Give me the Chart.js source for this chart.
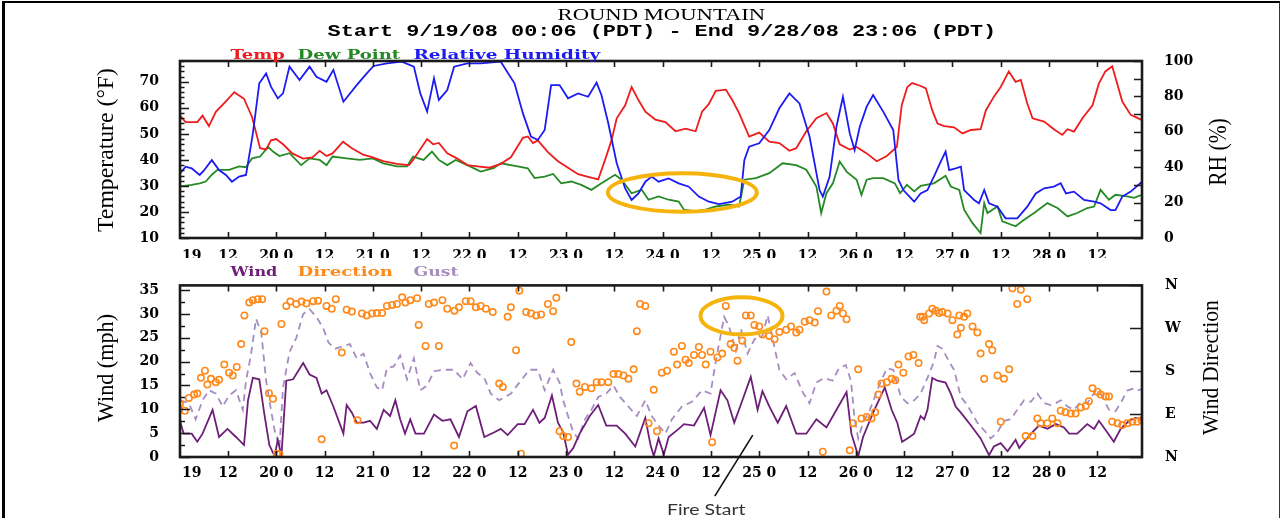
<!DOCTYPE html>
<html>
<head>
<meta charset="utf-8">
<title>Round Mountain</title>
<script src="https://cdn.jsdelivr.net/npm/chart.js@4.4.1/dist/chart.umd.min.js"></script>
<style>
  html, body { margin: 0; padding: 0; background: #fff; }
  #stage { position: relative; width: 1281px; height: 518px; overflow: hidden; background: #fff; }
  #frame { position: absolute; left: 2px; top: 1px; width: 1278px; height: 640px; box-sizing: border-box;
           border-left: 3px solid #000; border-top: 2px solid #000; border-right: 1.5px solid #333; }
  canvas { position: absolute; left: 0; }
  #cTop { top: 0; }
  #cBot { top: 262px; }
  .lbl { position: absolute; white-space: nowrap; line-height: 1; transform-origin: 50% 50%; }
</style>
</head>
<body>
<div id="stage">
  <div id="frame"></div>
  <canvas id="cTop" width="1281" height="262"></canvas>
  <canvas id="cBot" width="1281" height="256"></canvas>
</div>
<script>
// ---- Observations: [hours since 9/19/08 00:00 PDT, value] ----
const tempF = [[0.1,57],[1.5,54.5],[4.4,54.5],[5.7,57],[7.3,53],[9,58.5],[11.5,62.5],[13.6,66],[16,63.5],[18,56.5],[20,44.5],[21.5,44],[22.7,47.5],[24,48],[25.7,46],[28,42.5],[30.7,40.5],[33,41],[34.8,43.5],[36.5,41.5],[38,42.5],[40.6,47],[42.8,44.5],[45.6,42],[48,41],[50.6,39.5],[54,38.5],[57,38],[58,40],[61.5,48],[63,46],[64.4,46.5],[66.5,42.5],[69,40.5],[71.5,38],[74,37.5],[77,37],[79.8,38.5],[82.3,41],[85.3,48.5],[86.5,49],[87.8,46.5],[89,47.5],[91.5,43],[94,39.5],[96.5,37],[99,34.5],[101.5,33.5],[104,32.5],[105.7,40],[107.3,47.5],[108.6,56],[110.7,61],[112.3,68],[114,63],[115.7,58.5],[118.2,55.5],[120.7,54.5],[123.2,51],[125.7,52],[128.2,51],[129.8,58.5],[131.5,61.5],[133.2,66.5],[135.7,67],[137.3,63],[139,58],[141.5,49],[144,50.5],[146.5,47],[149,46.5],[151.5,43.5],[153.2,44.5],[155.7,51],[158.2,56],[160.7,58],[162.3,54],[164,46],[166.5,44],[168.2,45],[170.7,42.5],[173.2,39.5],[175.7,41.5],[178.2,45],[179.4,61],[180.8,68],[182,69.5],[184,68.5],[185.4,67.5],[187,59],[188.3,54],[190,53],[192.4,52.5],[194.5,50.2],[196.6,51.5],[199,51.8],[200.3,59],[202.3,64.3],[204,68],[206,74],[207.7,70],[209,70.7],[210.6,61.7],[211.9,56],[214.8,54.7],[217.2,51.8],[219.3,49.6],[220.6,51.8],[222.2,50.9],[224.3,56],[226.8,61],[228.4,69.4],[230,74],[231.7,76],[234.2,62.4],[236.3,57.3],[239.1,55.3]];

const dewPointF = [[0.1,29.8],[3,30.4],[5,31],[6.5,31.7],[8,34.3],[9.4,36.2],[12.3,36.2],[14.8,37.5],[16.5,37.2],[18,40.6],[20,41.3],[22,45],[23.2,43.2],[24.8,41.5],[27.3,42.6],[30.2,38],[32.3,40.6],[34.8,40],[36.5,38],[38,41.3],[41.5,40.6],[44.8,40],[48,40.6],[50.6,38.7],[54,37.5],[56.5,37.5],[58,41.3],[60.6,40],[62.7,43.2],[64.4,40],[66.5,38],[68.6,40],[71.5,38],[74.8,35.5],[78,36.8],[79.8,38.7],[84,37.5],[86.5,36.8],[88.2,33],[90.7,33.6],[92.8,34.6],[94.8,31],[97.3,31.7],[99.8,30.4],[102.3,28.5],[104.8,31],[108.2,34.3],[109.8,32.4],[112.3,27.2],[114.8,28.5],[116.5,24.7],[119,26],[121.5,24.7],[124,24],[125.3,20.9],[128.2,20.2],[130.7,20.9],[133.2,22.1],[136.5,22.8],[139,22.1],[140.3,32.4],[143.2,33],[146.5,34.9],[149.8,38.7],[153.2,38],[155.7,36.2],[158.2,29.8],[159.4,19.6],[160.7,27.2],[162.3,31],[164,39.4],[165.7,35.5],[168.2,32.4],[169.4,26.6],[170.7,32.4],[172.3,33],[174.8,33],[177.7,31],[179,27.2],[180.7,30.4],[182.5,27.9],[184.1,30],[187.4,31],[190.3,33.9],[191.6,29.8],[193.7,28.5],[194.9,20.9],[197,15.7],[199,11.9],[199.9,23.4],[200.7,19.6],[203.2,22.1],[204.4,16.4],[207.7,14.5],[209.8,17],[212.3,19.6],[215.6,23.4],[218.1,21.5],[220.6,18.3],[223,19.6],[225.5,21.5],[227.2,22.1],[228.8,28.5],[230.9,24.7],[232.5,26.6],[235.4,26],[237.1,25.4],[239.1,26.6]];

const relHumidity = [[0.1,36.5],[1.5,40.3],[3,39.4],[5,35.6],[6,38],[8,44],[9.8,38.4],[11.5,35.6],[13,31.8],[14.8,34.7],[16.5,35.6],[18.2,59],[19.8,87.4],[21.5,93],[22.7,85.5],[24.4,78.9],[25.7,81.7],[27.3,96.8],[29.8,89.3],[32.3,96.8],[34,91.1],[36.5,88.3],[38.2,95],[40.7,77],[44,86.4],[46.5,93],[48.2,97.2],[51.5,98.7],[55.2,99.6],[58.2,96.8],[59.8,81.7],[61.5,71.4],[63.2,90.2],[64.4,78],[66.5,83.6],[68.2,96.8],[71.5,98.7],[74.8,98.7],[79.8,99.6],[83.2,87.4],[85.3,70.4],[87.3,57.3],[89,55.4],[90.7,61],[92.3,86.4],[94.4,86.4],[96.5,78.9],[99,81.7],[101.5,79.8],[103.6,87.8],[104.8,80.8],[106.5,64.8],[108.6,42.2],[110.7,28],[112.3,21.5],[114,25.2],[115.7,31.8],[117.3,34.7],[119,31.8],[121.5,33.7],[124,30.9],[126.5,29],[129,23.4],[131.5,20.5],[134,19.2],[137.3,20.5],[139.4,23.4],[140.3,44],[141.5,51.6],[144,53.5],[146.5,61],[149,73.3],[151.5,81.7],[154,76],[156.5,57.3],[159,27.1],[159.8,23.4],[161.5,34.7],[163.2,63],[164.8,79.8],[166.5,59.1],[167.7,49.7],[169,63],[170.7,74.2],[172.3,80.8],[174.8,71.4],[177.3,61],[178.6,32.8],[179.8,27.1],[182.5,20.5],[184.1,25.2],[185.8,27.1],[187.4,34.7],[189.1,43.1],[190.3,48.8],[191.2,38.4],[192.8,39.4],[194.1,40.3],[194.9,27.1],[197.4,21.5],[198.6,19.6],[199.9,27.1],[201.1,19.6],[203.2,17.7],[205.2,11.1],[208.1,11.1],[210.6,17.7],[212.7,25.2],[214.8,28.1],[217.2,29],[218.9,30.9],[220.2,25.2],[222.2,26.2],[224.7,21.5],[227.2,20.5],[228.8,19.6],[231.3,15.8],[232.5,15.8],[234.2,23.4],[236.3,26.2],[239.1,31.8]];

const windMph = [[0.1,7.6],[1,4.9],[3,4.9],[4.4,3.2],[5.7,4.9],[8.2,9.9],[9.8,4.2],[11.9,5.9],[14,4.2],[16,2.5],[17,11.9],[18.2,16.6],[19.8,16.3],[21,9.3],[22.3,2.5],[23.6,0.2],[24.4,3.6],[25.3,0.2],[26.5,16],[28.2,16.3],[30.7,19.7],[32.3,17.3],[34,16.6],[35.3,13.3],[36.5,14],[38.2,10.6],[40.7,4.9],[41.5,10.9],[42.8,9.3],[44,7.2],[45.7,7.2],[47.3,7.6],[49,5.9],[50.7,9.9],[52.3,8.6],[53.6,11.9],[54.8,7.9],[56,4.9],[57.3,7.9],[58.6,4.9],[60.7,4.9],[63.2,8.9],[65.3,7.6],[67.3,7.9],[69.4,4.2],[71.5,9.6],[73.6,10.7],[75.7,4.2],[78.2,5.2],[79.8,5.9],[81.5,4.6],[84,6.9],[85.7,6.9],[87.8,9.9],[89.4,7.2],[90.7,8.2],[92.5,12.9],[94,7.2],[95.3,5.2],[96.5,0.5],[97.8,1.9],[99.4,4.9],[101.9,8.6],[104,10.9],[106,6.6],[108.6,6.6],[110.7,4.9],[113.2,2.2],[115.7,8.2],[117,2.5],[117.8,0.2],[119,3.9],[120.3,0.5],[121.5,4.2],[124,5.9],[125.3,6.9],[127.8,6.6],[130.3,10.3],[131.9,4.6],[134.4,14],[136.1,11.9],[137.8,7.2],[139.4,10.9],[141.9,16.8],[143.6,9.9],[144.8,13.8],[146.5,10.6],[148.6,7.2],[150.7,10.7],[153.2,4.9],[155.7,4.9],[158.2,7.9],[160.7,6.2],[163.2,9.9],[165.7,13.6],[166.9,4.9],[168.6,0.2],[169.8,4.2],[172.3,9.3],[175.2,14.6],[176.9,9.9],[178.3,7.2],[179.5,3.2],[180.8,3.9],[182.5,4.9],[184.1,8.6],[185,7.9],[185.8,9.9],[187,16.6],[188.3,16],[190.3,15.6],[191.6,13.3],[192.8,10.6],[194.5,8.9],[196.6,6.6],[199,3.9],[201.1,0.4],[202.3,2.2],[204,2.9],[205.7,1.2],[207.7,3.6],[208.6,1.9],[210.2,3.6],[211.9,5.2],[213.5,6.6],[215.6,5.9],[217.7,6.9],[219.7,6.2],[221,4.9],[223,4.9],[225.5,6.9],[227.2,5.9],[228.4,7.6],[230.1,5.6],[232.1,3.2],[233.8,5.9],[235.9,7.6],[237.5,8.2],[239.1,7.9]];

const gustMph = [[0.1,11.9],[2.3,11.3],[4,7.9],[5.7,11.9],[7.3,14],[9,13.3],[10.7,10.6],[12.3,12.9],[14,14],[15.7,9.9],[16.5,16],[17.7,21.3],[19,29],[20.3,26],[21.5,16],[22.7,9.9],[23.6,5.6],[24.8,1.9],[25.7,14.6],[27.3,22],[29,25],[30.7,30],[32.3,31],[34,29.4],[35.7,27],[37,24],[38.6,22.7],[40.7,23.3],[42.3,23.7],[44,20.7],[45.7,21.7],[47.3,17.6],[49,14.6],[50.3,14],[51.5,18.6],[53.2,19],[54.8,21.3],[56.5,16.3],[58.2,20.7],[59.8,14],[61.5,15],[63.2,18],[65.7,18.3],[68.2,18.3],[70.3,16.3],[72.3,19.7],[74,17.6],[75.7,16.6],[77.3,13.3],[79.4,11.9],[82.3,13.3],[84.4,15.6],[86.9,18.3],[89,18.3],[90.7,14],[92.8,18.3],[94.4,15.6],[95.3,11.9],[96.5,8.6],[97.8,5.2],[99,3.9],[100.7,7.9],[102.3,9.9],[104,12.6],[106,13.3],[107.8,15],[109.4,12.6],[111.5,10.6],[113.6,8.6],[115.7,11.9],[117.3,8.6],[119,6.6],[120.7,4.9],[122.3,7.9],[124.8,10.6],[127.3,11.6],[129.8,14],[131.9,13.3],[132.8,18],[134,23.7],[135.3,29.4],[136.5,27.4],[138.2,22.3],[139.4,27],[141.1,21.7],[142.8,24.7],[144.8,25.4],[146.1,29.7],[147.8,23],[149,18.3],[150.7,16.3],[152.8,17.6],[154.8,13.6],[156.5,11.3],[158.2,15.6],[160.2,16.6],[162.2,16],[163.8,18.6],[165.5,19.3],[166.8,16],[167.7,7.9],[168.6,3.9],[169.8,7.2],[171.5,9.9],[173.6,14.6],[175.7,18.6],[177.3,18.3],[179.2,12.6],[180.8,11.3],[182.5,11.9],[184.1,13.3],[185.8,16.6],[187.4,20],[188.3,23.3],[189.5,22.7],[191.2,20],[192.4,18.3],[194.1,12.6],[195.7,10.9],[198.2,7.2],[200.3,5.2],[201.5,3.9],[203.2,5.2],[204.8,7.6],[206.5,7.9],[208.1,9.9],[209.8,11.9],[211.5,11.6],[213.1,13.3],[214.8,11.3],[216.4,10.9],[217.7,11.3],[218.9,11.9],[220.6,10.6],[222.2,9.9],[223.9,11.6],[225.5,11.3],[227.6,13.9],[228.8,13.3],[230.9,9.9],[232.5,9.6],[233.8,11.3],[235.4,13.9],[236.7,14.3],[237.9,13.9],[239.1,14.3]];

const windDirDeg = [[0.1,111],[1.3,97],[2.3,124],[3.6,131],[4.4,133],[5.3,166],[6.3,181],[6.9,152],[7.8,164],[9,157],[9.8,162],[11.1,194],[12.3,177],[13.2,171],[14.2,189],[15.3,237],[16.1,297],[17.3,324],[18.2,329],[19.4,331],[20.5,331],[21.1,264],[22.2,134],[23.2,122],[24.2,7],[24.8,6],[25.3,279],[26.5,317],[27.5,326],[29,321],[30.3,326],[31.5,322],[33.2,327],[34.4,328],[35.3,37],[36.5,317],[37.8,311],[38.8,331],[40.3,219],[41.5,309],[42.8,305],[44.2,77],[45.3,301],[46.5,297],[47.8,301],[49,302],[50.3,302],[51.5,317],[52.8,319],[54,321],[55.3,335],[56.1,324],[57.3,329],[59,333],[59.4,277],[61.1,233],[61.9,321],[63.2,324],[64.4,233],[65.3,329],[66.5,311],[68.2,24],[68.3,307],[69.4,314],[71.1,327],[72.3,327],[73.6,314],[74.8,317],[76.1,311],[77.8,304],[79.4,154],[80.3,147],[81.5,294],[82.3,314],[83.6,224],[84.4,349],[84.8,7],[86.1,304],[87.3,301],[88.6,297],[89.8,299],[91.5,321],[92.8,306],[93.6,334],[94.4,54],[95.3,44],[96.5,42],[97.3,241],[98.6,154],[99.4,137],[100.7,147],[102.3,144],[103.6,157],[104.8,157],[106.5,157],[107.8,174],[109,174],[110.3,171],[111.5,164],[112.8,184],[113.6,264],[114.4,321],[115.7,317],[116.5,71],[117.8,141],[118.6,54],[119.8,177],[121.1,181],[122.8,221],[123.6,194],[124.8,233],[125.7,204],[126.5,197],[127.8,214],[129,231],[129.8,214],[130.7,194],[131.9,221],[132.3,31],[133.6,209],[134.8,217],[135.7,317],[136.9,237],[137.8,229],[138.6,202],[139.8,244],[140.7,297],[141.9,297],[142.8,277],[144,274],[144.8,257],[146.5,254],[147.8,247],[149,262],[150.7,267],[151.9,274],[153.2,261],[154,267],[155.3,284],[156.5,287],[157.8,282],[158.6,306],[159.8,11],[160.7,347],[161.9,297],[163.2,307],[164,317],[164.8,301],[165.7,289],[166.5,14],[167.3,71],[168.6,184],[169.4,81],[170.7,84],[171.9,81],[172.8,94],[173.6,131],[174.4,154],[175.7,157],[176.9,164],[177.8,161],[178.6,194],[179.8,177],[181.1,211],[182.3,214],[183.6,197],[184,294],[184.6,294],[185,287],[186.2,301],[187,311],[187.9,307],[188.7,302],[189.5,304],[190.8,301],[192,287],[193.2,257],[193.7,297],[194.1,271],[194.9,294],[195.7,301],[197,274],[198.2,261],[199,217],[199.9,164],[201.1,237],[201.9,224],[203.2,171],[204,74],[204.8,164],[206.1,184],[206.9,354],[208.1,321],[209,351],[210.2,44],[210.6,331],[211.9,44],[213.1,81],[213.9,71],[215.6,71],[216.8,81],[218.1,71],[218.9,97],[220.1,94],[221.4,91],[222.6,91],[223.9,104],[225.1,107],[225.9,117],[226.8,144],[228,137],[228.8,131],[230.1,127],[230.9,127],[231.7,74],[233,71],[234.2,67],[235.5,71],[236.7,74],[237.9,74],[239,77]];

// ---- Axis ticks and labels ----
const xTickHours  = [3, 12, 24, 36, 48, 60, 72, 84, 96, 108, 120, 132, 144, 156, 168, 180, 192, 204, 216, 228];
const xTickLabels = ['19','12','20 0','12','21 0','12','22 0','12','23 0','12','24 0','12','25 0','12','26 0','12','27 0','12','28 0','12'];
const tempTicks = [10, 20, 30, 40, 50, 60, 70];
const rhTicks   = [0, 10, 20, 30, 40, 50, 60, 70, 80, 90, 100];
const windTicks = [0, 5, 10, 15, 20, 25, 30, 35];
const dirTicks  = [0, 90, 180, 270, 360];
const dirTickLabels = ['N', 'E', 'S', 'W', 'N'];

// ---- Colours ----
const C_TEMP = '#ee1c1c', C_DEW = '#258a25', C_RH = '#1c1cf2';
const C_WIND = '#6d1f78', C_GUST = '#a78cc2', C_DIR = '#ff8a1c';
const C_RING = '#f5b30c';

// helpers
const pts = s => s.map(([x, y]) => ({ x, y }));
const fixTicks = vals => scale => { scale.ticks = vals.map(v => ({ value: v })); };
const between = (lo, hi, step, skip) => { const out = []; for (let v = lo; v <= hi + 1e-9; v += step) if (Math.abs(v / skip - Math.round(v / skip)) > 1e-6) out.push(v); return out; };
const tickFont = { family: 'DejaVu Serif', weight: 'bold', size: 14 };
const xHourTicks = xTickHours.filter(h => h % 12 === 0);

// plot frame plus inward tick marks on all four edges
const frameTicks = {
  id: 'frameTicks',
  afterDatasetsDraw(chart, args, o) {
    const { ctx, chartArea: a, scales } = chart;
    ctx.save();
    ctx.strokeStyle = '#1a1a1a';
    ctx.lineWidth = 1.6;
    ctx.beginPath();
    xHourTicks.forEach(h => {
      const p = Math.round(scales.x.getPixelForValue(h)) + 0.5;
      ctx.moveTo(p, a.bottom); ctx.lineTo(p, a.bottom - o.xLen);
      ctx.moveTo(p, a.top);    ctx.lineTo(p, a.top + o.xLen);
    });
    o.sides.forEach(s => {
      const sc = scales[s.id];
      const edge = s.side === 'left' ? a.left : a.right;
      const dir = s.side === 'left' ? 1 : -1;
      const put = (v, len) => { const p = Math.round(sc.getPixelForValue(v)) + 0.5; ctx.moveTo(edge, p); ctx.lineTo(edge + dir * len, p); };
      s.major.forEach(v => put(v, s.majorLen));
      (s.minor || []).forEach(v => put(v, s.minorLen));
    });
    ctx.stroke();
    ctx.lineWidth = 2.6;
    ctx.strokeRect(a.left, a.top, a.right - a.left, a.bottom - a.top);
    ctx.restore();
  }
};

// highlight rings, sized in data units
const rings = {
  id: 'rings',
  afterDatasetsDraw(chart, args, o) {
    const { ctx, scales } = chart;
    ctx.save();
    ctx.strokeStyle = C_RING;
    ctx.lineWidth = 4;
    o.items.forEach(r => {
      const xs = scales.x, ys = scales[r.axis];
      const cx = xs.getPixelForValue(r.x), cy = ys.getPixelForValue(r.y);
      const rx = Math.abs(xs.getPixelForValue(r.x + r.rx) - cx);
      const ry = Math.abs(ys.getPixelForValue(r.y + r.ry) - cy);
      ctx.beginPath();
      ctx.ellipse(cx, cy, rx, ry, 0, 0, Math.PI * 2);
      ctx.stroke();
    });
    ctx.restore();
  }
};

// leader line from the fire-start moment down to its caption
const leader = {
  id: 'leader',
  afterDraw(chart, args, o) {
    const { ctx, scales } = chart;
    const x = scales.x.getPixelForValue(o.hour), y = scales[o.axis].getPixelForValue(o.value);
    ctx.save();
    ctx.strokeStyle = '#111';
    ctx.lineWidth = 1.6;
    ctx.beginPath();
    ctx.moveTo(x, y);
    ctx.lineTo(x + o.dx, y + o.dy);
    ctx.stroke();
    ctx.restore();
  }
};

const xScale = pad => ({
  type: 'linear', min: 0.1, max: 239.1,
  grid: { display: false }, border: { display: false },
  afterBuildTicks: fixTicks(xTickHours),
  afterFit: s => { s.height = 20; },
  ticks: { autoSkip: false, maxRotation: 0, minRotation: 0, padding: pad, font: tickFont, color: '#000',
           callback: (v, i) => xTickLabels[i] }
});

const yScale = (pos, min, max, vals, pad, labels) => ({
  type: 'linear', position: pos, min, max,
  grid: { display: false }, border: { display: false },
  afterBuildTicks: fixTicks(vals),
  afterFit: s => { s.width = 60; },
  ticks: { padding: pad, font: tickFont, color: '#000',
           callback: labels ? (v, i) => labels[i] : v => String(v) }
});

const line = (label, series, color, axis, extra) => Object.assign({
  label, data: pts(series), yAxisID: axis, borderColor: color, backgroundColor: color,
  borderWidth: 1.8, pointRadius: 0, tension: 0, fill: false
}, extra || {});

// ---- Temperature / dew point / relative humidity ----
new Chart(document.getElementById('cTop'), {
  type: 'line',
  data: { datasets: [
    line('Relative Humidity', relHumidity, C_RH, 'yRH'),
    line('Temp', tempF, C_TEMP, 'yT'),
    line('Dew Point', dewPointF, C_DEW, 'yT')
  ]},
  options: {
    responsive: false, animation: false, events: [],
    layout: { padding: { left: 120, right: 79, top: 61, bottom: 4 } },
    plugins: {
      legend: { display: false }, tooltip: { enabled: false },
      frameTicks: { xLen: 6, sides: [
        { id: 'yT', side: 'left', major: tempTicks, majorLen: 9, minor: between(10, 78, 2, 10), minorLen: 4.5 },
        { id: 'yRH', side: 'right', major: rhTicks, majorLen: 8 }
      ]},
      rings: { items: [ { axis: 'yT', x: 124.9, y: 27.5, rx: 18.5, ry: 7.4 } ] }
    },
    scales: {
      x: xScale(2),
      yT: yScale('left', 10, 78, tempTicks, 13),
      yRH: yScale('right', 0, 100, rhTicks, 14)
    }
  },
  plugins: [frameTicks, rings]
});

// ---- Wind speed / direction / gust ----
new Chart(document.getElementById('cBot'), {
  type: 'line',
  data: { datasets: [
    { type: 'scatter', label: 'Direction', data: pts(windDirDeg), yAxisID: 'yD', showLine: false,
      pointStyle: 'circle', pointRadius: 3.2, pointBorderWidth: 1.6, borderColor: C_DIR,
      pointBorderColor: C_DIR, backgroundColor: 'rgba(0,0,0,0)', pointBackgroundColor: 'rgba(0,0,0,0)' },
    line('Wind', windMph, C_WIND, 'yW'),
    line('Gust', gustMph, C_GUST, 'yW', { borderDash: [7, 5] })
  ]},
  options: {
    responsive: false, animation: false, events: [],
    layout: { padding: { left: 120, right: 79, top: 15, bottom: 41 } },
    plugins: {
      legend: { display: false }, tooltip: { enabled: false },
      frameTicks: { xLen: 6, sides: [
        { id: 'yW', side: 'left', major: windTicks, majorLen: 10, minor: between(0, 36, 2.5, 5), minorLen: 5 },
        { id: 'yD', side: 'right', major: dirTicks, majorLen: 12 }
      ]},
      rings: { items: [ { axis: 'yW', x: 139.6, y: 29.6, rx: 10.2, ry: 3.9 } ] },
      leader: { axis: 'yW', hour: 142.4, value: 4.6, dx: -38, dy: 61 }
    },
    scales: {
      x: xScale(0),
      yW: yScale('left', 0, 36, windTicks, 13),
      yD: yScale('right', 0, 360, dirTicks, 15, dirTickLabels)
    }
  },
  plugins: [frameTicks, rings, leader]
});

// ---- Titles, legends and axis captions ----
const stage = document.getElementById('stage');
function addText(str, o) {
  const el = document.createElement('div');
  el.className = 'lbl';
  el.textContent = str;
  el.style.font = o.font;
  el.style.color = o.color || '#000';
  stage.appendChild(el);
  const w = el.offsetWidth, h = el.offsetHeight;
  const sx = o.len ? o.len / w : 1;
  el.style.left = (o.cx - w / 2) + 'px';
  el.style.top = (o.cy - h / 2) + 'px';
  el.style.transform = 'rotate(' + (o.rot || 0) + 'deg) scaleX(' + sx + ')';
}
const serif = sz => sz + 'px "Liberation Serif", serif';
const heavy = sz => 'bold ' + sz + 'px "DejaVu Serif", serif';

addText('ROUND MOUNTAIN', { font: serif(16), cx: 661, cy: 15, len: 208 });
addText('Start 9/19/08 00:06 (PDT) - End 9/28/08 23:06 (PDT)', { font: 'bold 16px "Liberation Mono", monospace', cx: 662, cy: 32, len: 669 });

addText('Temp', { font: heavy(13), color: C_TEMP, cx: 257, cy: 54, len: 54 });
addText('Dew Point', { font: heavy(13), color: C_DEW, cx: 348.5, cy: 54, len: 103 });
addText('Relative Humidity', { font: heavy(13), color: C_RH, cx: 506.5, cy: 54, len: 187 });

addText('Wind', { font: heavy(13), color: C_WIND, cx: 253.5, cy: 271, len: 47 });
addText('Direction', { font: heavy(13), color: C_DIR, cx: 344.5, cy: 271, len: 95 });
addText('Gust', { font: heavy(13), color: C_GUST, cx: 435.5, cy: 271, len: 45 });

addText('Temperature (\u00B0F)', { font: serif(23), cx: 106, cy: 150, rot: -90, len: 164 });
addText('Wind (mph)', { font: serif(23), cx: 106, cy: 368, rot: -90, len: 108 });
addText('RH (%)', { font: serif(25), cx: 1218, cy: 152, rot: -90, len: 67 });
addText('Wind Direction', { font: serif(24), cx: 1210, cy: 367, rot: -90, len: 135 });

addText('Fire Start', { font: '15px Lato, "Open Sans", sans-serif', color: '#333', cx: 706, cy: 509, len: 78 });
</script>
</body>
</html>
